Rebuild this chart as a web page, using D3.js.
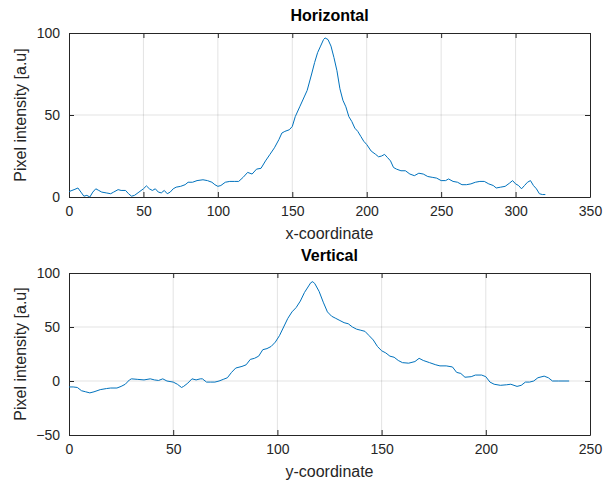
<!DOCTYPE html>
<html>
<head>
<meta charset="UTF-8">
<title>Horizontal / Vertical profiles</title>
<style>
  body { margin: 0; background: #fff; }
  svg { display: block; font-family: "Liberation Sans", Arial, sans-serif; }
  .grid line { stroke: #262626; stroke-opacity: 0.13; }
  .tick text { fill: #262626; font-size: 14px; }
  .axis path, .axis line { stroke: #262626; }
</style>
</head>
<body>
<script src="https://d3js.org/d3.v7.min.js"></script>
<script>
// horizontal profile (x-coordinate, intensity)
const hX = [0,2,4,6,8,10,12,14,16,18,20,22,25,28,30,33,35,38,40,42,44,47,50,52,54,56,58,60,62,64,66,68,70,72,75,78,80,83,86,90,93,96,98,100,102,105,108,111,114,117,120,123,126,129,132,135,138,141,143,145,148,150,152,155,158,160,163,165,167,169,171,172,174,176,178,180,182,184,186,188,190,192,194,196,198,200,203,206,208,210,212,214,216,218,220,223,226,229,232,235,238,241,244,247,250,253,255,258,261,264,267,270,273,276,279,282,285,287,290,293,296,298,300,302,304,306,308,310,312,314,316,318,320];
const hY = [3.3,4,4.7,5.5,3,0.5,1,0,3,5,4,3,2.5,2,3,4.5,4,4,2,0.5,1,3,5,6.8,5,4,5,3,2.5,4,2,3,5,6,6.5,7.5,9,9,10,10.5,10,9,7.5,6.5,7,9,9.5,9.5,9.5,12,15,14,17,17.5,22,26,30,35,39,40,41,43,49,55,61,65,75,82,88,92,96,97,96,92,85,77,66,59,55,49,46,42,40,37,34,32,28,26,24.5,25,26,24,22,18,17,16,16,14,13,14.5,14,12.5,12,11.5,10,10,11,9.5,9,7.5,7.5,8,9,9.5,9.5,8,7,5.5,6,6.5,8.5,10,8,7,5,7,9,10,7,5,2,1.5,1.5];

// vertical profile (y-coordinate, intensity)
const vX = [0,2,4,6,8,10,12,15,18,20,23,25,27,29,30,33,36,39,41,43,45,47,50,52,54,55,57,59,61,63,64,66,68,70,72,74,76,78,80,83,85,87,89,91,93,95,97,99,101,103,105,107,109,111,113,115,116,117,118,120,122,124,126,128,130,132,134,136,138,140,142,144,146,148,150,152,154,156,158,160,163,166,168,170,173,176,178,181,184,186,188,190,193,195,198,200,202,204,207,210,212,215,217,219,221,223,225,228,230,232,235,238,240];
const vY = [-5.5,-5.5,-6,-9,-10,-11,-10,-8,-7,-6.5,-6.5,-5,-3,1,2,1.5,1,2,1,0.5,2,0,-1,-3,-6,-5,-2,2,1,2,2,-1,-1,-1,0,1.5,3,8,12,13.5,15,20,21,23,29,30,32,36,42,50,58,64,68,74,82,88,91,92,90,83,73,64,60,58,56,54,53,50,48,47,46,42,38,32,28,26,23,22,19,17,16.5,18,21,19,17,15,14,14,13,8,7,3.5,4,5.5,5.5,4,-1,-3,-4,-3.5,-3,-5,-4,-1,-1,0,3,4.5,3,0,0,0,0];

const W = 605, H = 484;
const svg = d3.select("body").append("svg").attr("width", W).attr("height", H);

const panels = [
  { title: "Horizontal", xl: "x-coordinate", xs: hX, ys: hY,
    xd: [0, 350], xt: [0,50,100,150,200,250,300,350],
    yd: [0, 100], yt: [0,50,100], top: 33, bottom: 197 },
  { title: "Vertical", xl: "y-coordinate", xs: vX, ys: vY,
    xd: [0, 250], xt: [0,50,100,150,200,250],
    yd: [-50, 100], yt: [-50,0,50,100], top: 273, bottom: 435 }
];

const left = 69, right = 590;

panels.forEach(p => {
  const x = d3.scaleLinear().domain(p.xd).range([left, right]);
  const y = d3.scaleLinear().domain(p.yd).range([p.bottom, p.top]);
  const g = svg.append("g");

  // grid
  const grid = g.append("g").attr("class", "grid");
  grid.selectAll(".gx").data(p.xt.slice(1, -1)).enter().append("line")
    .attr("x1", d => x(d)).attr("x2", d => x(d))
    .attr("y1", p.top).attr("y2", p.bottom);
  grid.selectAll(".gy").data(p.yt.slice(1, -1)).enter().append("line")
    .attr("y1", d => y(d)).attr("y2", d => y(d))
    .attr("x1", left).attr("x2", right);

  // axes, MATLAB style inward ticks on all sides
  g.append("g").attr("class", "axis").attr("transform", `translate(0,${p.bottom})`)
    .call(d3.axisBottom(x).tickValues(p.xt).tickSizeInner(-5).tickSizeOuter(0).tickPadding(9));
  g.append("g").attr("class", "axis").attr("transform", `translate(0,${p.top})`)
    .call(d3.axisTop(x).tickValues(p.xt).tickSizeInner(-5).tickSizeOuter(0).tickFormat(""));
  g.append("g").attr("class", "axis").attr("transform", `translate(${left},0)`)
    .call(d3.axisLeft(y).tickValues(p.yt).tickSizeInner(-5).tickSizeOuter(0).tickPadding(9));
  g.append("g").attr("class", "axis").attr("transform", `translate(${right},0)`)
    .call(d3.axisRight(y).tickValues(p.yt).tickSizeInner(-5).tickSizeOuter(0).tickFormat(""));
  g.selectAll(".axis .domain").attr("stroke", "#262626");

  // data line
  const pts = p.xs.map((v, i) => [v, p.ys[i]]);
  g.append("path").datum(pts)
    .attr("fill", "none").attr("stroke", "#0072BD").attr("stroke-width", 1)
    .attr("d", d3.line().x(d => x(d[0])).y(d => y(d[1])));

  // labels
  g.append("text").attr("x", (left + right) / 2).attr("y", p.top - 12)
    .attr("text-anchor", "middle").attr("font-size", 16).attr("font-weight", "bold")
    .attr("fill", "#000").text(p.title);
  g.append("text").attr("x", (left + right) / 2).attr("y", p.bottom + 42)
    .attr("text-anchor", "middle").attr("font-size", 16).attr("fill", "#262626").text(p.xl);
  g.append("text").attr("transform", `translate(26,${(p.top + p.bottom) / 2}) rotate(-90)`)
    .attr("text-anchor", "middle").attr("font-size", 16).attr("fill", "#262626")
    .text("Pixel intensity [a.u]");
});
</script>
</body>
</html>
